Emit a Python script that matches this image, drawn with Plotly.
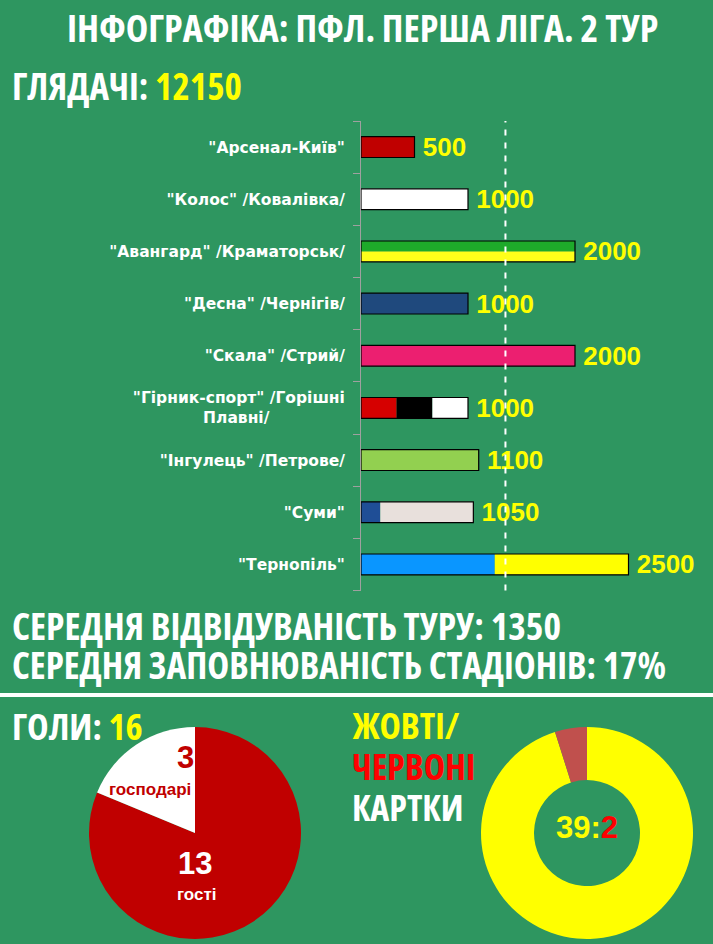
import plotly.graph_objects as go

# ---------------- data ----------------
clubs = ["Арсенал", "Колос", "Авангард", "Десна", "Скала", "Гірник", "Інгулець", "Суми", "Тернопіль"]
club_labels = [
    '"Арсенал-Київ"',
    '"Колос" /Ковалівка/',
    '"Авангард" /Краматорськ/',
    '"Десна" /Чернігів/',
    '"Скала" /Стрий/',
    '"Гірник-спорт" /Горішні<br>Плавні/' + "&nbsp;" * 14,
    '"Інгулець" /Петрове/',
    '"Суми"',
    '"Тернопіль"',
]
attendance = [500, 1000, 2000, 1000, 2000, 1000, 1100, 1050, 2500]
total_spectators = 12150
avg_attendance = 1350
avg_fill = "17%"

# segments of club colours along each bar (club, start, length, colour)
seg_club = ["Арсенал", "Колос", "Десна", "Скала", "Гірник", "Гірник", "Гірник",
            "Інгулець", "Суми", "Суми", "Тернопіль", "Тернопіль"]
seg_start = [0, 0, 0, 0, 0, 333, 667, 0, 0, 180, 0, 1250]
seg_len = [500, 1000, 1000, 2000, 333, 334, 333, 1100, 180, 870, 1250, 1250]
seg_color = ["#C00000", "#FFFFFF", "#1F497D", "#EC1F70", "#D60000", "#000000", "#FFFFFF",
             "#92D050", "#1F4E96", "#E8E0DC", "#0A96FF", "#FFFF00"]
# stripes across the bar height (top, bottom)
stripe_club = "Авангард"
stripe_colors = ["#1EAA2A", "#FFFF1A"]

goal_labels = ["гості", "господарі"]
goal_values = [13, 3]
total_goals = 16
card_labels = ["жовті", "червоні"]
card_values = [39, 2]

# ---------------- styles ----------------
BG = "#2E9660"
HEAD_FONT = "Open Sans, sans-serif"
NUM_FONT = "Liberation Sans, Arial, sans-serif"
LABEL_FONT = "DejaVu Sans, sans-serif"
W, H = 713, 944

fig = go.Figure()

for c, s, l, col in zip(seg_club, seg_start, seg_len, seg_color):
    fig.add_trace(go.Bar(y=[c], x=[l], base=[s], orientation="h", width=0.4,
                         marker=dict(color=col, line=dict(width=0)),
                         hoverinfo="skip", showlegend=False))

idx = clubs.index(stripe_club)
for k, col in enumerate(stripe_colors):
    fig.add_trace(go.Bar(y=[stripe_club], x=[attendance[idx]], orientation="h",
                         width=0.2, offset=-0.2 + 0.2 * k,
                         marker=dict(color=col, line=dict(width=0)),
                         hoverinfo="skip", showlegend=False))

# outline + value labels
fig.add_trace(go.Bar(y=clubs, x=attendance, orientation="h", width=0.4,
                     marker=dict(color="rgba(0,0,0,0)", line=dict(color="black", width=1.2)),
                     text=["\u2009" + str(v) for v in attendance], textposition="outside",
                     constraintext="none",
                     textfont=dict(family=NUM_FONT, size=26, color="#FFFF00", weight="bold"),
                     cliponaxis=False, hoverinfo="skip", showlegend=False))

# pies
fig.add_trace(go.Pie(labels=goal_labels, values=goal_values, sort=False, direction="clockwise",
                     rotation=0, textinfo="none", hoverinfo="skip", showlegend=False,
                     marker=dict(colors=["#C00000", "#FFFFFF"], line=dict(width=0)),
                     domain=dict(x=[89 / W, 301 / W], y=[5 / H, 217 / H])))
fig.add_trace(go.Pie(labels=card_labels, values=card_values, sort=False, direction="clockwise",
                     rotation=0, hole=0.5, textinfo="none", hoverinfo="skip", showlegend=False,
                     marker=dict(colors=["#FFFF00", "#C0504D"], line=dict(width=0)),
                     domain=dict(x=[481 / W, 693 / W], y=[5 / H, 217 / H])))

fig.add_shape(type="line", xref="x", yref="y domain", x0=avg_attendance, x1=avg_attendance,
              y0=0, y1=1, line=dict(color="white", width=2, dash="6px,7px"))
fig.add_shape(type="line", xref="paper", yref="paper", x0=0, x1=1,
              y0=1 - 695 / H, y1=1 - 695 / H, line=dict(color="white", width=4))


def ann(text, x, y, size, color="white", xanchor="left", family=HEAD_FONT, condensed=True):
    if condensed:
        text = f"<span style='font-stretch:75%'>{text}</span>"
    fig.add_annotation(text=text, x=x / W, y=1 - y / H, xref="paper", yref="paper",
                       xanchor=xanchor, yanchor="middle", showarrow=False,
                       font=dict(family=family, size=size, color=color))


YEL = "#FFFF00"
ann("<b>ІНФОГРАФІКА: ПФЛ. ПЕРША ЛІГА. 2 ТУР</b>", 362, 27, 38, xanchor="center")
ann(f"<b>ГЛЯДАЧІ: <span style='color:{YEL}'>{total_spectators}</span></b>", 10, 86, 37)
ann(f"<b>СЕРЕДНЯ ВІДВІДУВАНІСТЬ ТУРУ: {avg_attendance}</b>", 10, 625, 37.5)
ann(f"<b>СЕРЕДНЯ ЗАПОВНЮВАНІСТЬ СТАДІОНІВ: {avg_fill}</b>", 10, 664, 37)
ann(f"<b>ГОЛИ: <span style='color:{YEL}'>{total_goals}</span></b>", 10, 726, 36.5)
ann("<b>ЖОВТІ/</b>", 350, 725, 36, color=YEL)
ann("<b>ЧЕРВОНІ</b>", 350, 766, 36, color="#FF0000")
ann("<b>КАРТКИ</b>", 350, 807, 36)
ann(f"<b>{card_values[0]}:<span style='color:#FF0000'>{card_values[1]}</span></b>", 587, 827, 31,
    color=YEL, xanchor="center", family=NUM_FONT, condensed=False)
ann(f"<b>{goal_values[1]}</b>", 185, 757, 31, color="#C00000", xanchor="center",
    family=NUM_FONT, condensed=False)
ann(f"<b>{goal_labels[1]}</b>", 150, 789, 17, color="#C00000", xanchor="center",
    family=NUM_FONT, condensed=False)
ann(f"<b>{goal_values[0]}</b>", 195, 863, 31, xanchor="center", family=NUM_FONT, condensed=False)
ann(f"<b>{goal_labels[0]}</b>", 197, 894, 17, xanchor="center", family=NUM_FONT, condensed=False)

fig.update_layout(
    width=W, height=H, margin=dict(l=0, r=0, t=0, b=0),
    paper_bgcolor=BG, plot_bgcolor=BG, barmode="overlay", showlegend=False,
    xaxis=dict(domain=[361 / W, 700 / W], range=[0, 339 / 0.107], visible=False,
               showgrid=False, zeroline=False),
    yaxis=dict(domain=[1 - 590.5 / H, 1 - 121 / H], type="category",
               categoryorder="array", categoryarray=clubs, autorange="reversed",
               tickvals=clubs, ticktext=club_labels,
               ticks="outside", tickson="boundaries", ticklen=7, tickcolor="#A0A0A0",
               showline=True, linecolor="#A0A0A0", linewidth=1, showgrid=False,
               ticklabelstandoff=12,
               tickfont=dict(family=LABEL_FONT, size=15.5, color="white", weight="bold")),
)

fig.write_html("out.html")
